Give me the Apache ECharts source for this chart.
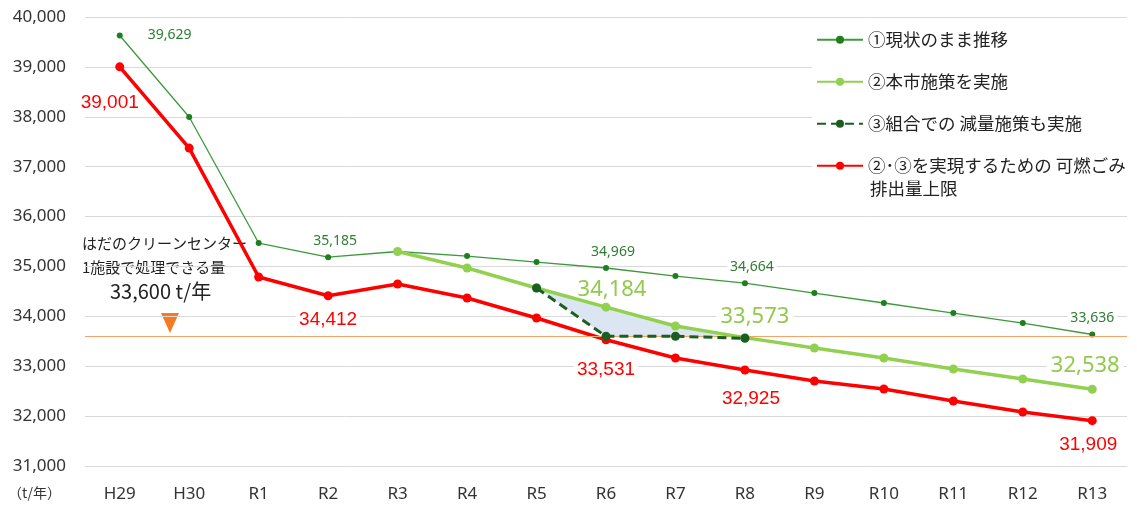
<!DOCTYPE html>
<html>
<head>
<meta charset="utf-8">
<script src="https://cdn.jsdelivr.net/npm/echarts@6/dist/echarts.min.js"></script>
<style>
  html, body { margin: 0; padding: 0; background: #fff; }
  #chart { width: 1137px; height: 511px; }
</style>
</head>
<body>
<div id="chart"></div>
<script>
const categories = ['H29', 'H30', 'R1', 'R2', 'R3', 'R4', 'R5', 'R6', 'R7', 'R8', 'R9', 'R10', 'R11', 'R12', 'R13'];
const trend = [39629, 37996, 35469, 35185, 35300, 35208, 35088, 34969, 34808, 34664, 34467, 34267, 34066, 33866, 33636];
const cityPlan = [null, null, null, null, 35300, 34968, 34567, 34184, 33806, 33573, 33365, 33164, 32944, 32743, 32538];
const unionPlan = [null, null, null, null, null, null, 34567, 33600, 33600, 33560, null, null, null, null, null];
const upperLimit = [39001, 37373, 34788, 34412, 34647, 34367, 33966, 33531, 33164, 32925, 32703, 32543, 32302, 32082, 31909];
const capacity = 33600;

// which points carry a value label
const trendLabelIdx = [0, 3, 7, 9, 14];
const cityLabelIdx = [7, 9, 14];
const limitLabelIdx = [0, 3, 7, 9, 14];

const seriesNames = [
  '①現状のまま推移',
  '②本市施策を実施',
  '③組合での 減量施策も実施',
  '②･③を実現するための 可燃ごみ'
];

const fmt = function (v) {
  return Number(v).toLocaleString('en-US');
};

const withLabels = function (values, idx, label) {
  return values.map(function (v, i) {
    if (v == null) return '-';
    if (idx.indexOf(i) < 0) return v;
    let lb = Object.assign({ show: true, formatter: function (p) { return fmt(p.value); } }, label);
    if (typeof label.byIndex === 'function') {
      lb = Object.assign(lb, label.byIndex(i));
    }
    delete lb.byIndex;
    return { value: v, label: lb };
  });
};

// band between ② and ③ from R5 to R8
const bandBase = unionPlan.map(function (v) { return v == null ? '-' : v; });
const bandDiff = unionPlan.map(function (v, i) {
  return v == null ? '-' : Math.max(cityPlan[i] - v, 0);
});

const chart = echarts.init(document.getElementById('chart'));

const option = {
  animation: false,
  grid: { left: 85, right: 10, top: 17, bottom: 45 },
  legend: {
    data: seriesNames,
    orient: 'vertical',
    left: 812,
    top: 25,
    itemWidth: 46,
    itemHeight: 10,
    itemGap: 24.5,
    padding: [6, 4, 6, 4],
    backgroundColor: '#fff',
    textStyle: { fontSize: 17.5, color: '#222', fontFamily: 'Noto Sans CJK JP' },
    selectedMode: false
  },
  xAxis: {
    type: 'category',
    data: categories,
    boundaryGap: true,
    axisLine: { show: false },
    axisTick: { show: false },
    axisLabel: { fontSize: 17, color: '#333', margin: 20, fontFamily: 'Noto Sans' }
  },
  yAxis: {
    type: 'value',
    min: 31000,
    max: 40000,
    interval: 1000,
    axisLabel: {
      fontSize: 17, color: '#333', margin: 19, fontFamily: 'Noto Sans',
      formatter: fmt
    },
    splitLine: { lineStyle: { color: '#d9d9d9', width: 1 } }
  },
  graphic: [
    {
      type: 'text', left: 870, top: 180,
      style: { text: '排出量上限', fontSize: 17.5, fill: '#222', fontFamily: 'Noto Sans CJK JP' }
    },
    {
      type: 'text', left: 8, top: 486,
      style: { text: '（t/年）', fontSize: 14, fill: '#333', fontFamily: 'Noto Sans CJK JP' }
    },
    {
      type: 'text', left: 80, top: 231,
      style: {
        text: 'はだのクリーンセンター\n1施設で処理できる量',
        fontSize: 15, lineHeight: 24, fill: '#222', fontFamily: 'Noto Sans CJK JP',
        backgroundColor: '#fff', padding: [0, 4, 0, 2]
      }
    },
    {
      type: 'text', left: 110, top: 281,
      style: { text: '33,600 t/年', fontSize: 20, fill: '#222', fontFamily: 'Noto Sans CJK JP' }
    },
    {
      type: 'polygon',
      shape: { points: [[161, 313], [179, 313], [170, 333]] },
      style: { fill: '#F47B20' }
    }
  ],
  series: [
    {
      name: 'band-base',
      type: 'line',
      stack: 'band',
      data: bandBase,
      symbol: 'none',
      lineStyle: { opacity: 0 },
      silent: true,
      z: 1
    },
    {
      name: 'band',
      type: 'line',
      stack: 'band',
      data: bandDiff,
      symbol: 'none',
      lineStyle: { opacity: 0 },
      areaStyle: { color: '#DCE6F2', opacity: 1 },
      silent: true,
      z: 1
    },
    {
      name: seriesNames[3],
      type: 'line',
      data: withLabels(upperLimit, limitLabelIdx, {
        position: 'bottom',
        distance: 10,
        fontSize: 19,
        color: '#FF0000',
        fontFamily: 'Liberation Sans',
        backgroundColor: '#fff',
        padding: [0, 3],
        byIndex: function (i) {
          if (i === 0) return { offset: [-10, 12], backgroundColor: 'transparent' };
          if (i === 7) return { offset: [0, 6] };
          if (i === 9) return { offset: [6, 5] };
          if (i === 14) return { offset: [-4, 0] };
          return {};
        }
      }),
      symbol: 'circle',
      symbolSize: 9,
      itemStyle: { color: '#FF0000' },
      lineStyle: { color: '#FF0000', width: 3.5 },
      markLine: {
        silent: true,
        symbol: 'none',
        label: { show: false },
        lineStyle: { color: '#F4A46A', width: 1.2, type: 'solid' },
        data: [{ yAxis: capacity }]
      },
      z: 3
    },
    {
      name: seriesNames[0],
      type: 'line',
      data: withLabels(trend, trendLabelIdx, {
        position: 'top',
        distance: 6,
        fontSize: 14,
        color: '#2E7D32',
        fontFamily: 'Noto Sans',
        backgroundColor: '#fff',
        padding: [0, 3],
        byIndex: function (i) {
          if (i === 0) return { position: 'right', distance: 22, offset: [0, 0] };
          if (i === 9 || i === 3 || i === 7) return { offset: [7, 0] };
          return {};
        }
      }),
      symbol: 'circle',
      symbolSize: 6,
      itemStyle: { color: '#1E7F1E' },
      lineStyle: { color: '#3C9A3C', width: 1.3 },
      z: 4
    },
    {
      name: seriesNames[1],
      type: 'line',
      data: withLabels(cityPlan, cityLabelIdx, {
        position: 'top',
        distance: 4,
        fontSize: 22,
        color: '#92C94E',
        fontFamily: 'Noto Sans',
        backgroundColor: '#fff',
        padding: [0, 4],
        byIndex: function (i) {
          if (i === 7) return { offset: [6, 2], backgroundColor: 'transparent' };
          if (i === 9) return { offset: [10, -1] };
          if (i === 14) return { offset: [-7, -4] };
          return {};
        }
      }),
      symbol: 'circle',
      symbolSize: 9,
      itemStyle: { color: '#92D050' },
      lineStyle: { color: '#92D050', width: 3.5 },
      z: 5
    },
    {
      name: seriesNames[2],
      type: 'line',
      data: unionPlan.map(function (v) { return v == null ? '-' : v; }),
      symbol: 'circle',
      symbolSize: 9,
      itemStyle: { color: '#1B5E20' },
      lineStyle: { color: '#1B5E20', width: 3, type: [9, 5] },
      z: 6
    }
  ]
};

chart.setOption(option);
</script>
</body>
</html>
